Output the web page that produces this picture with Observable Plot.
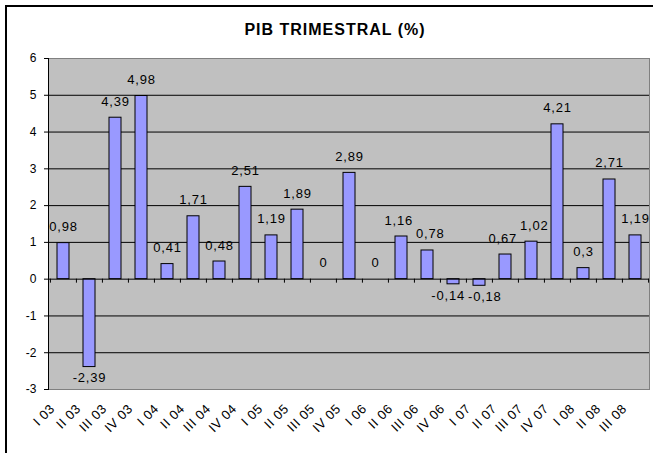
<!DOCTYPE html>
<html><head><meta charset="utf-8">
<script src="https://cdn.jsdelivr.net/npm/d3@7"></script>
<script src="https://cdn.jsdelivr.net/npm/@observablehq/plot@0.6"></script>
<style>
html,body{margin:0;padding:0;background:#fff;overflow:hidden;}
#wrap{position:relative;width:653px;height:453px;overflow:hidden;}
#border{position:absolute;left:5px;top:5px;width:720px;height:520px;border:2px solid #000;box-sizing:border-box;pointer-events:none;}
svg{display:block;}
</style></head><body>
<div id="wrap"><div id="chart"></div><div id="border"></div></div>
<script>
const quarters = ["I 03","II 03","III 03","IV 03","I 04","II 04","III 04","IV 04","I 05","II 05","III 05","IV 05","I 06","II 06","III 06","IV 06","I 07","II 07","III 07","IV 07","I 08","II 08","III 08"];
const values = [0.98,-2.39,4.39,4.98,0.41,1.71,0.48,2.51,1.19,1.89,0,2.89,0,1.16,0.78,-0.14,-0.18,0.67,1.02,4.21,0.3,2.71,1.19];
const yTicks = [-3,-2,-1,0,1,2,3,4,5,6];
const gridValues = [-2,-1,1,2,3,4,5];
const title = "PIB TRIMESTRAL (%)";

const data = quarters.map((q, i) => ({q, v: values[i]}));
const fmt = v => String(v).replace(".", ",");
const W = 653, H = 453, mL = 48, mR = 4, mT = 58, mB = 64;
const step = (W - mL - mR) / quarters.length;

const chart = Plot.plot({
  width: W, height: H,
  marginLeft: mL, marginRight: mR, marginTop: mT, marginBottom: mB,
  style: {fontFamily: "'Liberation Sans', Arial, sans-serif", background: "white", overflow: "visible", color: "#000"},
  x: {domain: quarters, paddingInner: 0.54, paddingOuter: 0.27, axis: null},
  y: {domain: [-3, 6], axis: null},
  marks: [
    Plot.frame({fill: "#c0c0c0", stroke: "#808080"}),
    Plot.ruleY(gridValues, {stroke: "#000"}),
    Plot.barY(data, {x: "q", y: "v", fill: "#9999ff", stroke: "#000", strokeWidth: 1}),
    Plot.ruleY([0], {stroke: "#000"}),
    Plot.frame({anchor: "left", stroke: "#000"}),
    Plot.axisY({ticks: yTicks, tickSize: 4, tickPadding: 8, tickFormat: d => String(d), label: null, fontSize: 12, stroke: "#000", fill: "#000"}),
    Plot.ruleX(quarters, {x: d => d, y1: 0, y2: 0, insetTop: 4, dx: -step / 2, stroke: "#000"}),
    Plot.ruleX([quarters[quarters.length - 1]], {x: d => d, y1: 0, y2: 0, insetTop: 4, dx: step / 2, stroke: "#000"}),
    Plot.text(data.filter(d => d.v >= 0), {x: "q", y: "v", text: d => fmt(d.v), dy: -12, lineAnchor: "bottom", fontSize: 13, fill: "#000"}),
    Plot.text(data.filter(d => d.v < 0), {x: "q", y: "v", text: d => fmt(d.v), dy: 6, lineAnchor: "top", fontSize: 13, fill: "#000"}),
    Plot.text(quarters, {x: d => d, frameAnchor: "bottom", rotate: -45, textAnchor: "end", lineAnchor: "bottom", dx: -8, dy: 20, fontSize: 13, fill: "#000"}),
    Plot.text([title], {frameAnchor: "top", dx: -14, dy: -24, lineAnchor: "bottom", fontWeight: "bold", fontSize: 16, fill: "#000"})
  ]
});
document.getElementById("chart").appendChild(chart);
// Excel-like wider letter spacing per text mark
const textGroups = chart.querySelectorAll("g[aria-label='text']");
const spacing = ["0.8px", "0.8px", "0.6px", "1px"];
textGroups.forEach((g, i) => { if (spacing[i]) g.setAttribute("letter-spacing", spacing[i]); });
// Nudge apart neighbouring value labels that would collide (as the source chart does)
const labels = [...textGroups[0].querySelectorAll("text"), ...textGroups[1].querySelectorAll("text")]
  .map(el => ({el, b: el.getBoundingClientRect()}))
  .sort((a, b) => a.b.left - b.b.left);
const gap = 3;
for (let i = 0; i + 1 < labels.length; i++) {
  const a = labels[i], c = labels[i + 1];
  const vOverlap = a.b.top < c.b.bottom && c.b.top < a.b.bottom;
  const overlap = a.b.right + gap - c.b.left;
  if (vOverlap && overlap > 0) {
    const s = overlap / 2;
    a.el.setAttribute("dx", -s);
    c.el.setAttribute("dx", s);
    c.b = c.el.getBoundingClientRect();
  }
}
</script>
</body></html>
